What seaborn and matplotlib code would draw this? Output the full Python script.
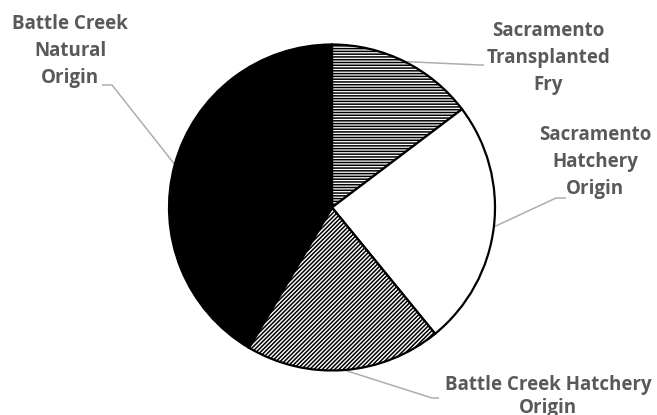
import numpy as np
import matplotlib
matplotlib.use("Agg")
import matplotlib.pyplot as plt
import seaborn as sns

# Composition of the run, clockwise from 12 o'clock
categories = [
    "Sacramento\nTransplanted\nFry",
    "Sacramento\nHatchery\nOrigin",
    "Battle Creek Hatchery\nOrigin",
    "Battle Creek\nNatural\nOrigin",
]
shares = [14.7, 24.4, 19.4, 41.5]
fills = ["white", "white", "white", "black"]
hatches = ["------", "", "////////", ""]

sns.set_theme(style="white")
plt.rcParams["font.family"] = ["Open Sans", "DejaVu Sans"]
plt.rcParams["hatch.linewidth"] = 1.1
plt.rcParams["hatch.color"] = "black"

W, H = 657, 415
R_PX = 163.0          # pie radius in pixels
CX, CY = 332.0, 207.5  # pie centre in pixels (from top-left)

fig = plt.figure(figsize=(W / 100, H / 100), dpi=100)
ax = fig.add_axes([0, 0, 1, 1])


def px(x, y):
    """Pixel position (top-left origin) -> data coordinates."""
    return (x - CX) / R_PX, (CY - y) / R_PX


wedges, _ = ax.pie(
    shares,
    colors=fills,
    startangle=90,
    counterclock=False,
    radius=1.0,
    wedgeprops=dict(edgecolor="black", linewidth=1.6),
)
for w, h in zip(wedges, hatches):
    if h:
        w.set_hatch(h)

# pie() resets the limits, so fix the view afterwards
ax.set_xlim(-CX / R_PX, (W - CX) / R_PX)
ax.set_ylim(-(H - CY) / R_PX, CY / R_PX)
ax.set_aspect("equal")
ax.axis("off")

# label text centres, line spacing and leader elbows / ends (pixels)
label_xy = [(548, 58), (595, 162), (548, 396), (70, 51)]
spacing = [1.46, 1.46, 1.2, 1.46]
leader = [
    [(480, 65), (484, 65)],
    [(556, 198), (566, 198)],
    [(432, 398), (439, 398)],
    [(112, 85), (102, 85)],
]

text_col = "#595959"
line_col = "#adadad"
for w, lab, (tx, ty), ls, pts in zip(wedges, categories, label_xy, spacing, leader):
    mid = np.deg2rad((w.theta1 + w.theta2) / 2)
    ex, ey = np.cos(mid), np.sin(mid)
    xs = [ex] + [px(*p)[0] for p in pts]
    ys = [ey] + [px(*p)[1] for p in pts]
    ax.plot(xs, ys, color=line_col, lw=1.1, zorder=0.5, solid_capstyle="butt")
    x, y = px(tx, ty)
    ax.text(x, y, lab, ha="center", va="center", fontsize=13.5, fontweight="bold",
            color=text_col, linespacing=ls)

fig.savefig("out.png", dpi=100)
